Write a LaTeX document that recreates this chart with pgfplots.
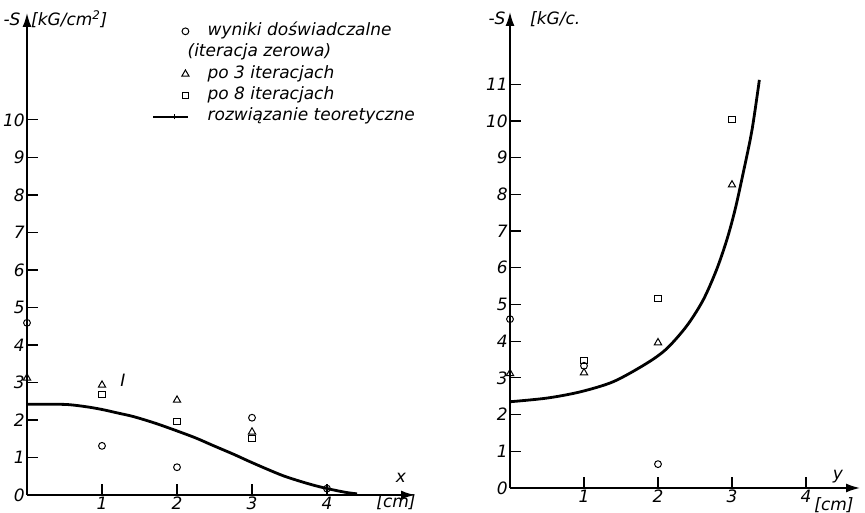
\documentclass[border=0pt]{standalone}
\usepackage{fontspec}
\setmainfont{DejaVu Sans}
\usepackage{pgfplots}
\pgfplotsset{compat=1.18}
\usetikzlibrary{arrows.meta}
\newcommand\lf{\fontsize{17}{20}\selectfont\itshape}
\pgfplotsset{
  base/.style={
    scale only axis, axis lines=left,
    axis line style={line width=1.6pt, -{Latex[length=14pt,width=9pt]}},
    tick align=inside, major tick length=11pt,
    tick style={line width=1.2pt, black},
    xmin=0, ymin=0,
    tick label style={font=\lf},
    /pgf/number format/assume math mode=true,
    yticklabel style={inner xsep=2pt},
    xticklabel style={inner ysep=2pt},
    xtick={1,2,3,4},
    clip=false,
  },
  mk/.style={only marks, black, mark options={line width=1pt, fill=none},
    legend image code/.code={\path (0pt,0pt) (35pt,0pt); \draw[##1] plot coordinates {(32pt,0pt)};}},
  expt/.style={mk, mark=o, mark size=3.4pt},
  it3/.style={mk, mark=triangle, mark size=4.2pt},
  it8/.style={mk, mark=square, mark size=3.1pt},
  theo/.style={line width=2.8pt, black, no marks, smooth,
    legend image code/.code={\draw[line width=2.4pt] (0pt,0pt) -- (35pt,0pt); \draw[line width=1pt] (21pt,-2.5pt) -- (21pt,2.5pt);}},
}
\begin{document}
\begin{tikzpicture}
\path[use as bounding box] (0,0) rectangle (865pt,513pt);
% ---------- left panel ----------
\begin{axis}[base, at={(27pt,18pt)}, anchor=south west,
  width=388pt, height=482pt, xmax=5.173, ymax=12.85,
  ytick={0,1,2,3,4,5,6,7,8,9,10},
  legend style={at={(axis cs:1.667,12.58)}, anchor=north west, draw=none, fill=none,
    inner sep=0pt, font=\lf, row sep=5.4pt, column sep=18pt,
    nodes={text height=12pt, text depth=4pt, inner sep=0pt}},
  legend cell align=left]
\addplot[expt] coordinates {(0,4.59) (1,1.31) (2,0.74) (3,2.06) (4,0.17)};
\addlegendentry{wyniki doświadczalne}
\addlegendimage{empty legend}
\addlegendentry{\hspace*{-20pt}(iteracja zerowa)}
\addplot[it3] coordinates {(0,3.12) (1,2.93) (2,2.53) (3,1.68)};
\addlegendentry{po 3 iteracjach}
\addplot[it8] coordinates {(1,2.68) (2,1.95) (3,1.50)};
\addlegendentry{po 8 iteracjach}
\addplot[theo] coordinates {(0,2.42) (0.3,2.42) (0.55,2.41) (0.8,2.35) (1.0,2.28) (1.2,2.19) (1.42,2.09) (1.7,1.92) (1.97,1.73) (2.25,1.52) (2.48,1.32) (2.75,1.09) (2.97,0.89) (3.2,0.69) (3.42,0.51) (3.65,0.36) (3.86,0.24) (4.05,0.15) (4.25,0.07) (4.4,0.03)};
\addlegendentry{rozwiązanie teoretyczne}
\end{axis}
% ---------- right panel ----------
\begin{axis}[base, at={(510pt,25pt)}, anchor=south west,
  width=350pt, height=476pt, xmax=4.73, ymax=12.97,
  ytick={0,1,2,3,4,5,6,7,8,9,10,11}]
\addplot[expt] coordinates {(0,4.6) (1,3.33) (2,0.65)};
\addplot[it3] coordinates {(0,3.12) (1,3.14) (2,3.96) (3,8.26)};
\addplot[it8] coordinates {(1,3.47) (2,5.17) (3,10.05)};
\addplot[theo] coordinates {(0,2.35) (0.5,2.45) (0.95,2.62) (1.4,2.90) (1.85,3.40) (2.12,3.80) (2.39,4.42) (2.61,5.12) (2.79,5.94) (2.93,6.76) (3.04,7.57) (3.15,8.57) (3.27,9.75) (3.37,11.12)};
\end{axis}
% ---------- texts ----------
\node at (12pt,494pt) {\lf -S};
\node[anchor=west, inner sep=0pt] at (31pt,494pt) {\lf [kG/cm\textsuperscript{2}]};
\node at (401pt,35pt) {\lf x};
\node at (396pt,11pt) {\lf [cm]};
\node at (123pt,133pt) {\lf I};
\node at (497pt,495pt) {\lf -S};
\node[anchor=west, inner sep=0pt] at (530pt,494pt) {\lf [kG/c.};
\node at (838pt,36pt) {\lf y};
\node at (834pt,8pt) {\lf [cm]};
\end{tikzpicture}
\end{document}
